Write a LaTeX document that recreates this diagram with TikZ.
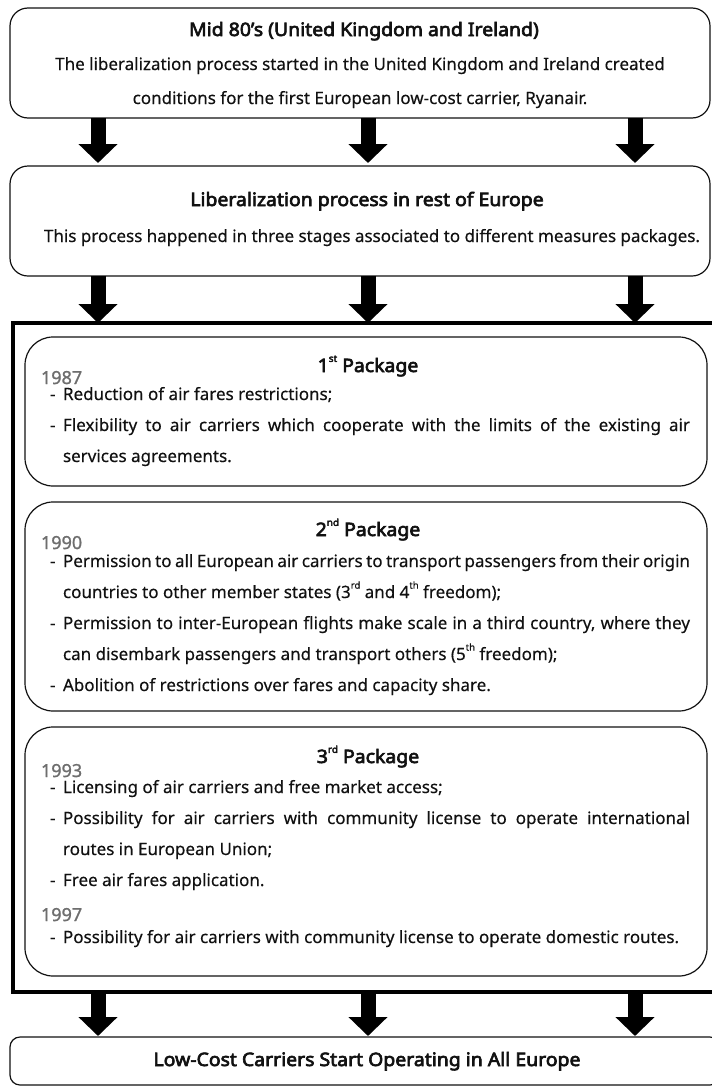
\documentclass[tikz,border=0pt]{standalone}
\usepackage{fontspec}
\setmainfont{Noto Sans}[FakeBold=0.35]
\newfontfamily\headfont{Noto Sans}[FakeBold=3.5,FakeStretch=1.05]
\newfontfamily\yearfont{Noto Sans}[FakeBold=1.2]
\usetikzlibrary{arrows.meta}
\definecolor{ink}{HTML}{111111}
\definecolor{yeargray}{HTML}{6E6E6E}

% one justified line of a list entry
\newcommand{\jline}[1]{\makebox[627pt][s]{#1}}
% small raised ordinal suffix
\newcommand{\ordsup}[1]{\raisebox{0.55em}{\fontsize{9.5}{9.5}\selectfont #1}}

\begin{document}
\begin{tikzpicture}[x=1pt,y=-1pt,
  every node/.style={outer sep=0pt},
  stage/.style={draw=ink, line width=1.2pt, rounded corners=18pt, inner sep=0pt, anchor=north west},
  pkgbox/.style={draw=ink, line width=1.2pt, rounded corners=28pt, inner sep=0pt, anchor=north west},
  frame/.style={draw=black, line width=4pt, inner sep=0pt, anchor=north west},
  bigarrow/.style={draw=black, line width=15pt, -{Triangle[width=38pt,length=19pt]}},
  ttl/.style={font=\headfont\fontsize{18.5}{20}\selectfont, text=ink, inner sep=0pt, anchor=base},
  txt/.style={font=\fontsize{17}{19}\selectfont, text=ink, inner sep=0pt},
  yr/.style={font=\yearfont\fontsize{18}{20}\selectfont, text=yeargray, inner sep=0pt, anchor=base west},
  item/.style={txt, anchor=base west},
  hyph/.style={txt, anchor=base west},
]
\useasboundingbox (0,0) rectangle (712,1087);

% ---------- stage boxes ----------
\node[stage, minimum width=700pt, minimum height=110pt] (mid) at (10,8) {};
\node[stage, minimum width=700pt, minimum height=110pt] (rest) at (10,166) {};
\node[frame, minimum width=706pt, minimum height=669pt] (pk) at (13,323) {};
\node[stage, rounded corners=10pt, minimum width=710pt, minimum height=48pt] (lcc) at (10,1037) {};

\node[ttl] (midT) at (364,36) {Mid 80’s (United Kingdom and Ireland)};
\node[txt, anchor=base] (midA) at (360,70) {The liberalization process started in the United Kingdom and Ireland created};
\node[txt, anchor=base] (midB) at (360,104) {conditions for the first European low-cost carrier, Ryanair.};

\node[ttl] (restT) at (367,206) {Liberalization process in rest of Europe};
\node[txt, anchor=base] (restA) at (372,242) {This process happened in three stages associated to different measures packages.};

\node[ttl] (lccT) at (367,1066) {Low-Cost Carriers Start Operating in All Europe};

% ---------- packages ----------
\node[pkgbox, minimum width=682pt, minimum height=149pt] (p1) at (25,337) {};
\node[pkgbox, minimum width=682pt, minimum height=209pt] (p2) at (25,502) {};
\node[pkgbox, minimum width=682pt, minimum height=249pt] (p3) at (25,727) {};

% 1st package
\node[ttl] (p1T) at (368,372) {1\ordsup{st} Package};
\node[yr] (y87) at (41,384) {1987};
\node[hyph] (p1d1) at (50,400) {-};
\node[item] (p1a) at (63,400) {Reduction of air fares restrictions;};
\node[hyph] (p1d2) at (50,431) {-};
\node[item] (p1b) at (63,431) {\jline{Flexibility to air carriers which cooperate with the limits of the existing air}};
\node[item] (p1c) at (63,462) {services agreements.};

% 2nd package
\node[ttl] (p2T) at (368,536) {2\ordsup{nd} Package};
\node[yr] (y90) at (41,549) {1990};
\node[hyph] (p2d1) at (50,567) {-};
\node[item] (p2a) at (63,567) {\jline{Permission to all European air carriers to transport passengers from their origin}};
\node[item] (p2b) at (63,598) {countries to other member states (3\ordsup{rd} and 4\ordsup{th} freedom);};
\node[hyph] (p2d2) at (50,629) {-};
\node[item] (p2c) at (63,629) {\jline{Permission to inter-European flights make scale in a third country, where they}};
\node[item] (p2d) at (63,660) {can disembark passengers and transport others (5\ordsup{th} freedom);};
\node[hyph] (p2d3) at (50,691) {-};
\node[item] (p2e) at (63,691) {Abolition of restrictions over fares and capacity share.};

% 3rd package
\node[ttl] (p3T) at (368,763) {3\ordsup{rd} Package};
\node[yr] (y93) at (41,777) {1993};
\node[hyph] (p3d1) at (50,793) {-};
\node[item] (p3a) at (63,793) {Licensing of air carriers and free market access;};
\node[hyph] (p3d2) at (50,824) {-};
\node[item] (p3b) at (63,824) {\jline{Possibility for air carriers with community license to operate international}};
\node[item] (p3c) at (63,855) {routes in European Union;};
\node[hyph] (p3d3) at (50,886) {-};
\node[item] (p3d) at (63,886) {Free air fares application.};
\node[yr] (y97) at (41,921) {1997};
\node[hyph] (p3d4) at (50,943) {-};
\node[item] (p3e) at (63,943) {Possibility for air carriers with community license to operate domestic routes.};

% ---------- block arrows ----------
\coordinate (ca) at (98,0);
\coordinate (cb) at (368,0);
\coordinate (cc) at (635,0);
\foreach \c in {ca,cb,cc}{
  \draw[bigarrow] (mid.south -| \c) -- ([yshift=3pt]rest.north -| \c);
  \draw[bigarrow] (rest.south -| \c) -- (pk.north -| \c);
  \draw[bigarrow] (pk.south -| \c) -- ([yshift=1pt]lcc.north -| \c);
}
\end{tikzpicture}
\end{document}
